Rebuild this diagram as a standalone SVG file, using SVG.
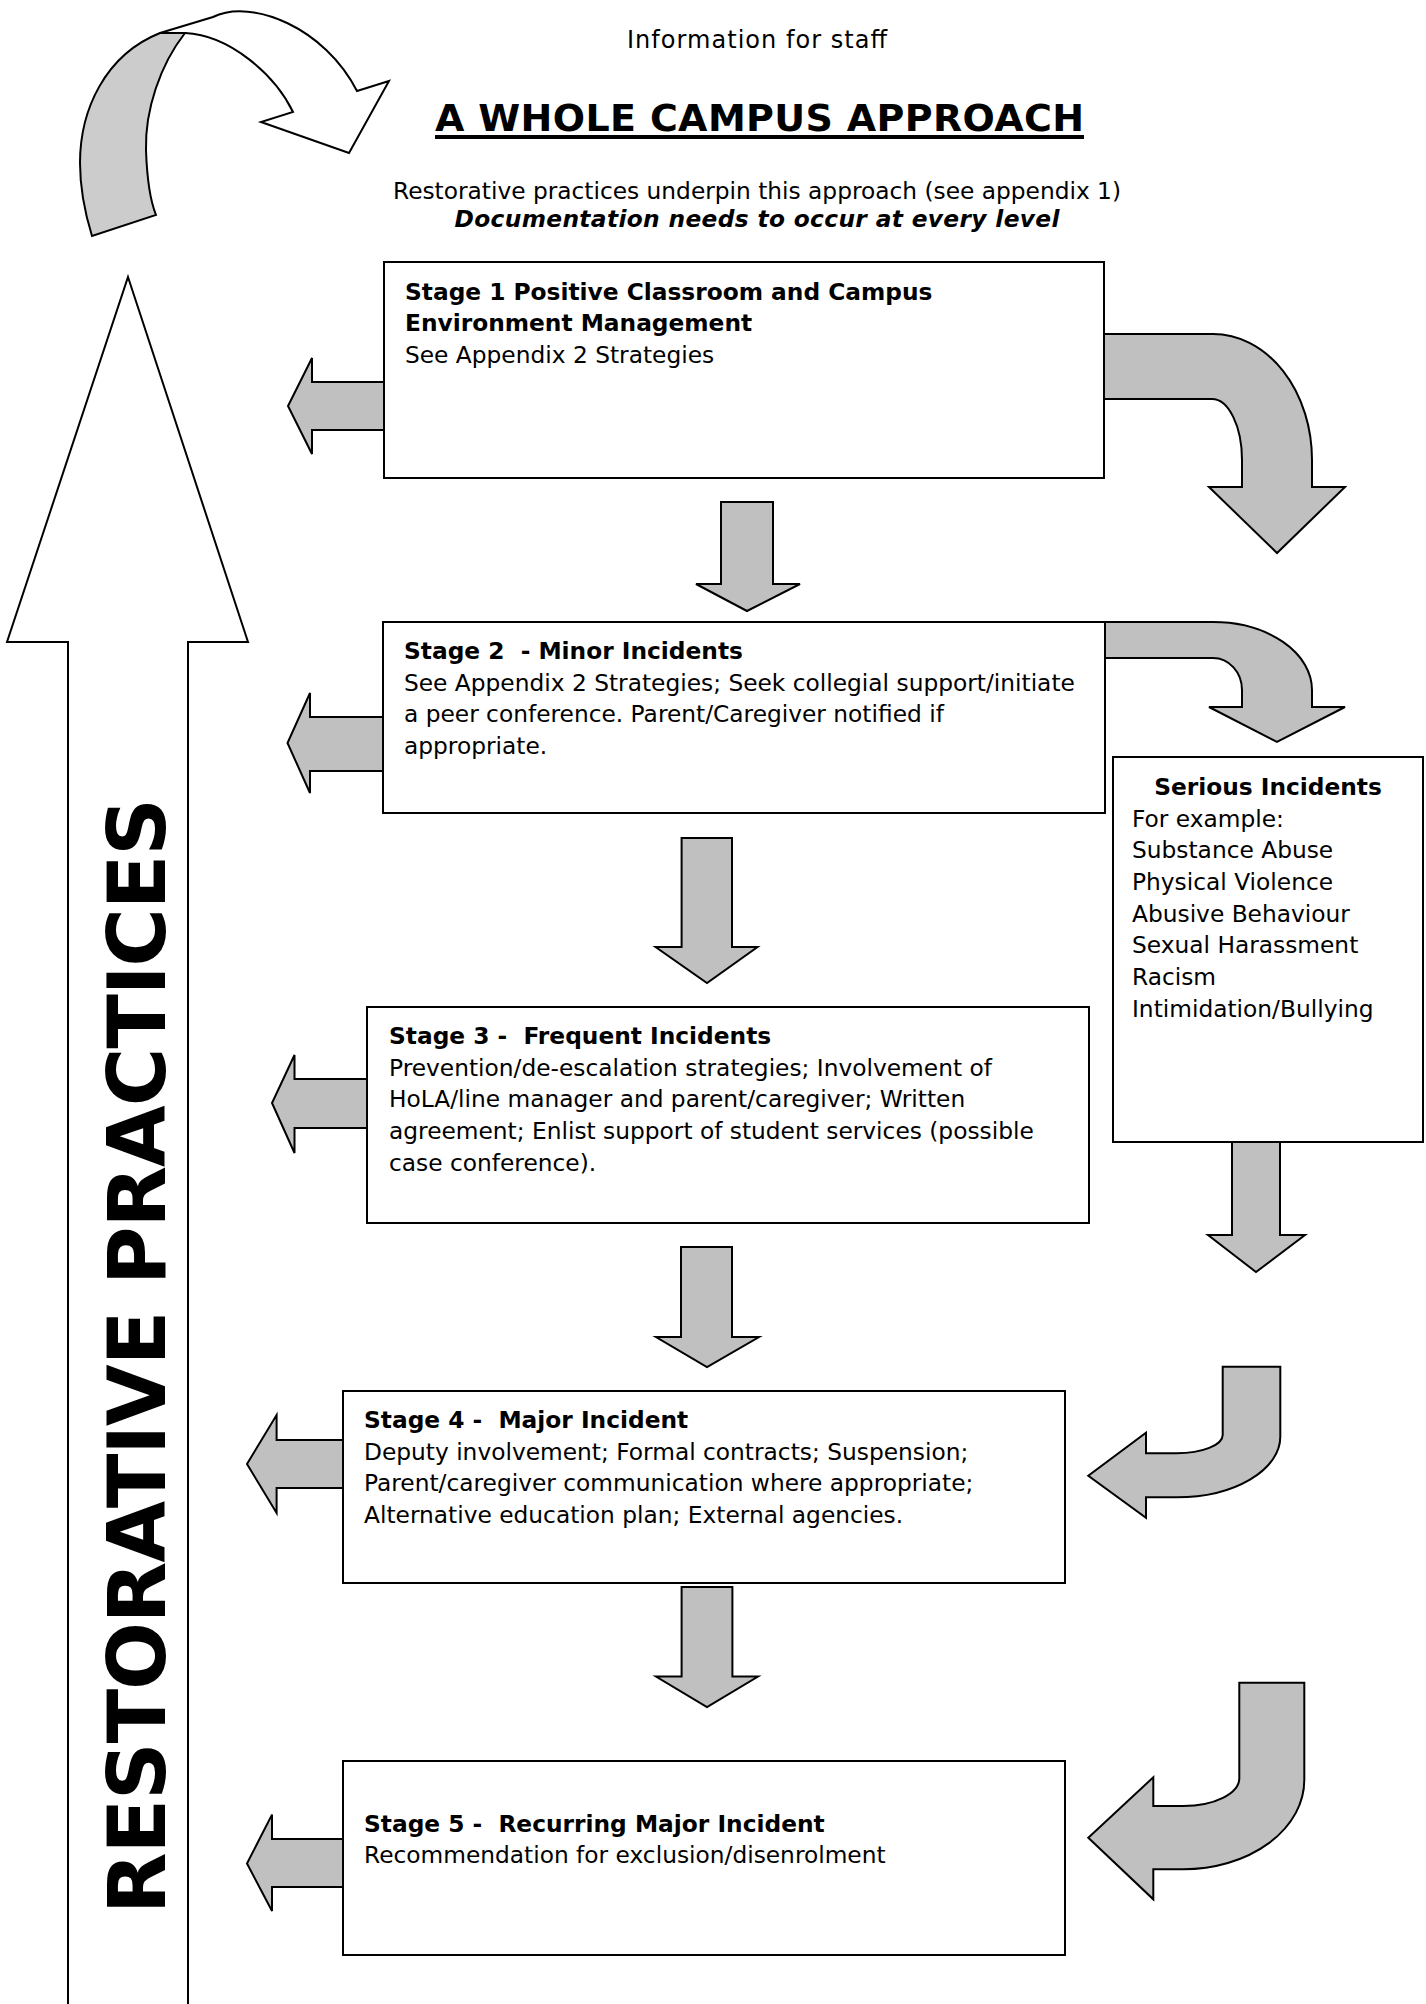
<svg xmlns="http://www.w3.org/2000/svg" width="1426" height="2004" viewBox="0 0 1426 2004">
<style>
.box{fill:#fff;stroke:#000;stroke-width:2}
.arr{fill:#c0c0c0;stroke:#000;stroke-width:2;stroke-linejoin:miter}
.wht{fill:#fff;stroke:#000;stroke-width:2;stroke-linejoin:miter}
.t{font-family:"DejaVu Sans",Verdana,sans-serif;font-size:23.3px;fill:#000;white-space:pre}
.b{font-weight:bold}
.h0{font-size:24px}
.h1{font-size:38px}
.big{font-size:80px}
</style>
<rect width="1426" height="2004" fill="#fff"/>
<g id="header">
<text class="t h0" x="757" y="48" text-anchor="middle" textLength="260" lengthAdjust="spacing">Information for staff</text>
<text class="t b h1" x="759.5" y="131" text-anchor="middle" textLength="649" lengthAdjust="spacing">A WHOLE CAMPUS APPROACH</text>
<line x1="435" y1="137" x2="1084" y2="137" stroke="#000" stroke-width="4"/>
<text class="t" x="757" y="199" text-anchor="middle" textLength="728" lengthAdjust="spacing">Restorative practices underpin this approach (see appendix 1)</text>
<text class="t b" x="757" y="227" text-anchor="middle" font-style="italic" textLength="605" lengthAdjust="spacing">Documentation needs to occur at every level</text>
</g>
<g id="connectors">
<g id="cycle-arrow">
<path class="wht" d="M160,33 L213,17 C252,-2 325,28 357,91 L389,81 L349,153 L261,122 L293,112 C275,75 230,35 185,33 Z"/>
<path d="M92,236 C84,210 80,185 80,163 C80,110 105,55 160,33 L185,33 C160,65 145,110 146,150 C147,180 150,200 156,215 Z" fill="#cccccc" stroke="#000" stroke-width="2"/>
</g>
<polygon id="restorative-arrow" class="wht" points="128,277 248,642 188,642 188,2010 68,2010 68,642 7,642"/>
<polygon class="arr" points="384,382 312,382 312,358 288,406 312,454 312,430 384,430"/>
<polygon class="arr" points="383,717 310,717 310,693 287.5,743 310,793 310,771 383,771"/>
<polygon class="arr" points="367,1079 294.5,1079 294.5,1055 272,1103 294.5,1153 294.5,1128 367,1128"/>
<polygon class="arr" points="343,1440 276.6,1440 276.6,1415 247,1464 276.6,1513 276.6,1488 343,1488"/>
<polygon class="arr" points="343,1839 272,1839 272,1814.6 247,1863.5 272,1911 272,1887 343,1887"/>
<polygon class="arr" points="721,502 773,502 773,584 800,584 747,611 696,584 721,584"/>
<polygon class="arr" points="681.6,838 732,838 732,947 757.5,947 707,983 655.6,947 681.6,947"/>
<polygon class="arr" points="681,1247 732,1247 732,1337 759,1337 707,1367 656,1337 681,1337"/>
<polygon class="arr" points="681.6,1587 732.4,1587 732.4,1676.5 758,1676.5 707,1707 656,1676.5 681.6,1676.5"/>
<polygon class="arr" points="1232,1142 1280,1142 1280,1235 1305,1235 1256,1272 1208,1235 1232,1235"/>
<path class="arr" d="M1104,334 L1213,334 A99,126 0 0 1 1312,460 L1312,487 L1345,487 L1277,553 L1209,487 L1242,487 L1242,460 A30,61 0 0 0 1212,399 L1104,399 Z"/>
<path class="arr" d="M1105,622 L1213,622 A99,68 0 0 1 1312,690 L1312,707 L1345,707 L1277,742 L1209,707 L1242,707 L1242,690 A29,32 0 0 0 1213,658 L1105,658 Z"/>
<path class="arr" d="M1222.7,1366.7 L1280.3,1366.7 L1280.3,1436.7 A103.6,60.6 0 0 1 1176.7,1497.3 L1146,1497.3 L1146,1517.7 L1088.3,1475.7 L1146,1432.7 L1146,1453.3 L1176.7,1453.3 A46,18.3 0 0 0 1222.7,1435 Z"/>
<path class="arr" d="M1239.3,1682.7 L1304.3,1682.7 L1304.3,1780 A121,89.3 0 0 1 1183.3,1869.3 L1153.3,1869.3 L1153.3,1899.3 L1088.3,1837.7 L1153.3,1777.3 L1153.3,1806 L1183.3,1806 A56,27.7 0 0 0 1239.3,1778.3 Z"/>
</g>
<g id="restorative-label">
<text class="t b big" transform="translate(165,1914) rotate(-90)" textLength="1116" lengthAdjust="spacing">RESTORATIVE PRACTICES</text>
</g>
<g id="stage1">
<rect class="box" x="384" y="262" width="720" height="216"/>
<text class="t b" x="405" y="300">Stage 1 Positive Classroom and Campus</text>
<text class="t b" x="405" y="331">Environment Management</text>
<text class="t" x="405" y="363">See Appendix 2 Strategies</text>
</g>
<g id="stage2">
<rect class="box" x="383" y="622" width="722" height="191"/>
<text class="t b" x="404" y="659">Stage 2  - Minor Incidents</text>
<text class="t" x="404" y="690.5">See Appendix 2 Strategies; Seek collegial support/initiate</text>
<text class="t" x="404" y="722">a peer conference. Parent/Caregiver notified if</text>
<text class="t" x="404" y="753.5">appropriate.</text>
</g>
<g id="serious">
<rect class="box" x="1113" y="757" width="310" height="385"/>
<text class="t b" x="1268" y="795" text-anchor="middle">Serious Incidents</text>
<text class="t" x="1132" y="827">For example:</text>
<text class="t" x="1132" y="858">Substance Abuse</text>
<text class="t" x="1132" y="890">Physical Violence</text>
<text class="t" x="1132" y="922">Abusive Behaviour</text>
<text class="t" x="1132" y="953">Sexual Harassment</text>
<text class="t" x="1132" y="985">Racism</text>
<text class="t" x="1132" y="1017">Intimidation/Bullying</text>
</g>
<g id="stage3">
<rect class="box" x="367" y="1007" width="722" height="216"/>
<text class="t b" x="389" y="1044">Stage 3 -  Frequent Incidents</text>
<text class="t" x="389" y="1075.5">Prevention/de-escalation strategies; Involvement of</text>
<text class="t" x="389" y="1107">HoLA/line manager and parent/caregiver; Written</text>
<text class="t" x="389" y="1139">agreement; Enlist support of student services (possible</text>
<text class="t" x="389" y="1170.5">case conference).</text>
</g>
<g id="stage4">
<rect class="box" x="343" y="1391" width="722" height="192"/>
<text class="t b" x="364" y="1428">Stage 4 -  Major Incident</text>
<text class="t" x="364" y="1459.6">Deputy involvement; Formal contracts; Suspension;</text>
<text class="t" x="364" y="1491">Parent/caregiver communication where appropriate;</text>
<text class="t" x="364" y="1523">Alternative education plan; External agencies.</text>
</g>
<g id="stage5">
<rect class="box" x="343" y="1761" width="722" height="194"/>
<text class="t b" x="364" y="1832">Stage 5 -  Recurring Major Incident</text>
<text class="t" x="364" y="1863">Recommendation for exclusion/disenrolment</text>
</g>
</svg>
